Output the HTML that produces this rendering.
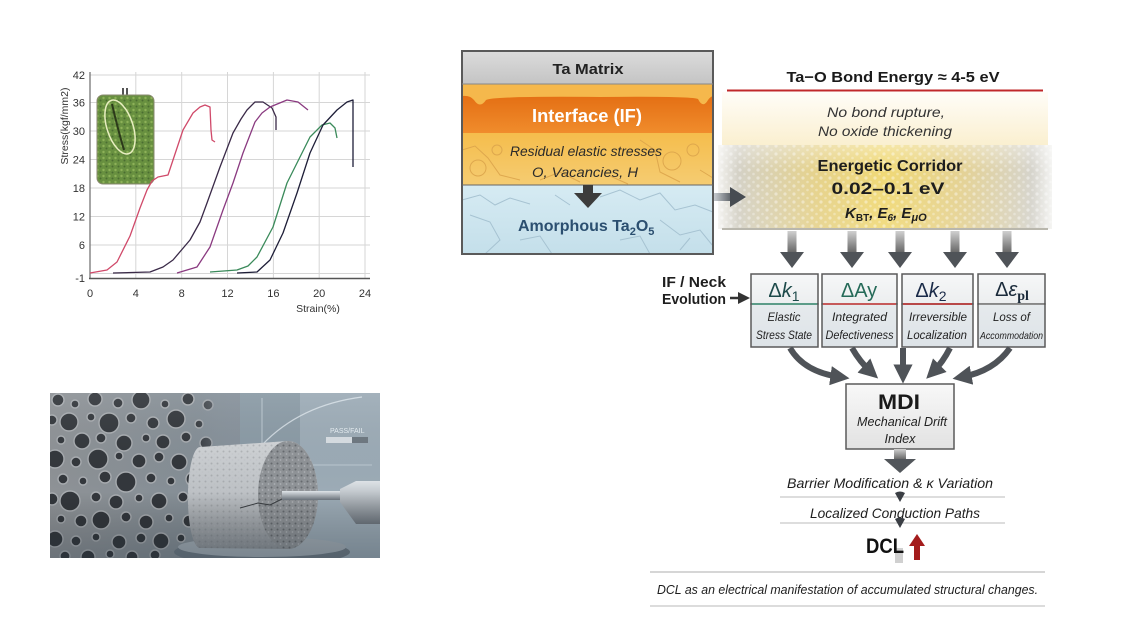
<!DOCTYPE html>
<html><head><meta charset="utf-8"><style>
html,body{margin:0;padding:0;background:#fff;width:1140px;height:641px;overflow:hidden}
svg{display:block}
text{font-family:"Liberation Sans",sans-serif}
</style></head><body>
<svg width="1140" height="641" viewBox="0 0 1140 641" xmlns="http://www.w3.org/2000/svg">
<defs>
<linearGradient id="gTa" x1="0" y1="0" x2="0" y2="1"><stop offset="0" stop-color="#dcdcdc"/><stop offset="1" stop-color="#c4c4c4"/></linearGradient>
<linearGradient id="gIF" x1="0" y1="0" x2="0" y2="1"><stop offset="0" stop-color="#e46f14"/><stop offset="1" stop-color="#f08c2c"/></linearGradient>
<linearGradient id="gRes" x1="0" y1="0" x2="0" y2="1"><stop offset="0" stop-color="#f5bd4c"/><stop offset="1" stop-color="#f5cc72"/></linearGradient>
<linearGradient id="gAm" x1="0" y1="0" x2="0" y2="1"><stop offset="0" stop-color="#d6ebf3"/><stop offset="1" stop-color="#c4dfea"/></linearGradient>
<linearGradient id="gCream" x1="0" y1="0" x2="0" y2="1"><stop offset="0" stop-color="#fffdf8"/><stop offset="1" stop-color="#faefcf"/></linearGradient>
<linearGradient id="gCorr" x1="0" y1="0" x2="1" y2="0"><stop offset="0" stop-color="#f4f3f0"/><stop offset="0.06" stop-color="#d4d1c6"/><stop offset="0.3" stop-color="#e6d28a"/><stop offset="0.5" stop-color="#f0d976"/><stop offset="0.72" stop-color="#e5d292"/><stop offset="0.94" stop-color="#d6d4cc"/><stop offset="1" stop-color="#f4f4f2"/></linearGradient>
<linearGradient id="gCorrV" x1="0" y1="0" x2="0" y2="1"><stop offset="0" stop-color="#fff" stop-opacity="0.35"/><stop offset="0.3" stop-color="#fff" stop-opacity="0"/><stop offset="1" stop-color="#fff" stop-opacity="0.1"/></linearGradient>
<pattern id="dots" width="9" height="8" patternUnits="userSpaceOnUse"><circle cx="2" cy="2" r="1.6" fill="#fff" fill-opacity="0.4"/><circle cx="6.5" cy="6" r="1.3" fill="#fff" fill-opacity="0.3"/></pattern>
<linearGradient id="gShaft" x1="0" y1="0" x2="0" y2="1"><stop offset="0" stop-color="#d0d0d0"/><stop offset="1" stop-color="#606060"/></linearGradient>
<linearGradient id="gShaftH" x1="0" y1="0" x2="1" y2="0"><stop offset="0" stop-color="#c8ccd0"/><stop offset="1" stop-color="#4a4f55"/></linearGradient>
<linearGradient id="gBoxT" x1="0" y1="0" x2="0" y2="1"><stop offset="0" stop-color="#f6f7f8"/><stop offset="1" stop-color="#eceeef"/></linearGradient>
<linearGradient id="gBoxB" x1="0" y1="0" x2="0" y2="1"><stop offset="0" stop-color="#e6eaed"/><stop offset="1" stop-color="#dde3e7"/></linearGradient>
<linearGradient id="gMDI" x1="0" y1="0" x2="0" y2="1"><stop offset="0" stop-color="#f8f8f8"/><stop offset="1" stop-color="#e2e2e2"/></linearGradient>
<marker id="ah" viewBox="0 0 10 10" refX="5" refY="5" markerWidth="3.2" markerHeight="3.2" orient="auto"><path d="M0,0 L10,5 L0,10 z" fill="#4f5358"/></marker>
<linearGradient id="gPhoto" x1="0" y1="0" x2="1" y2="0"><stop offset="0" stop-color="#8e9296"/><stop offset="0.45" stop-color="#848e96"/><stop offset="0.75" stop-color="#8a9aa5"/><stop offset="1" stop-color="#a8b6c0"/></linearGradient>
<linearGradient id="gPhotoV" x1="0" y1="0" x2="0" y2="1"><stop offset="0" stop-color="#fff" stop-opacity="0.08"/><stop offset="0.6" stop-color="#000" stop-opacity="0"/><stop offset="1" stop-color="#1c2a36" stop-opacity="0.3"/></linearGradient>
<linearGradient id="gCyl" x1="0" y1="0" x2="0" y2="1"><stop offset="0" stop-color="#d2d5d8"/><stop offset="0.5" stop-color="#bcc0c4"/><stop offset="1" stop-color="#8e9398"/></linearGradient>
<linearGradient id="gProbe" x1="0" y1="0" x2="0" y2="1"><stop offset="0" stop-color="#dfe4e8"/><stop offset="1" stop-color="#6e767e"/></linearGradient>
<linearGradient id="gFade" x1="0" y1="0" x2="1" y2="0"><stop offset="0" stop-color="#86909a" stop-opacity="0"/><stop offset="1" stop-color="#86909a" stop-opacity="1"/></linearGradient>
<clipPath id="cPhoto"><rect x="50" y="393" width="330" height="165"/></clipPath>
<clipPath id="cFace"><ellipse cx="288" cy="495" rx="30" ry="54"/></clipPath>
<pattern id="speck" width="6" height="6" patternUnits="userSpaceOnUse"><circle cx="1.5" cy="1.5" r="1" fill="#5c6064"/><circle cx="4.5" cy="4" r="0.9" fill="#b4b8bc"/></pattern>
<pattern id="grass" width="6" height="6" patternUnits="userSpaceOnUse"><rect width="6" height="6" fill="#5f8a35"/><circle cx="1.5" cy="2" r="1.2" fill="#86ad4e"/><circle cx="4.5" cy="4.5" r="1" fill="#3f6425"/></pattern>
</defs>

<!-- ================= CHART ================= -->
<g stroke="#d6d6d6" stroke-width="1">
<line x1="90" y1="75" x2="370" y2="75"/><line x1="90" y1="102.5" x2="370" y2="102.5"/><line x1="90" y1="131" x2="370" y2="131"/><line x1="90" y1="159.5" x2="370" y2="159.5"/><line x1="90" y1="188" x2="370" y2="188"/><line x1="90" y1="216.5" x2="370" y2="216.5"/><line x1="90" y1="245" x2="370" y2="245"/><line x1="90" y1="273.5" x2="370" y2="273.5"/>
<line x1="135.8" y1="72" x2="135.8" y2="278"/><line x1="181.7" y1="72" x2="181.7" y2="278"/><line x1="227.5" y1="72" x2="227.5" y2="278"/><line x1="273.4" y1="72" x2="273.4" y2="278"/><line x1="319.2" y1="72" x2="319.2" y2="278"/><line x1="365" y1="72" x2="365" y2="278"/>
</g>
<line x1="90" y1="72" x2="90" y2="279" stroke="#777" stroke-width="1.3"/>
<line x1="89" y1="278.5" x2="370" y2="278.5" stroke="#555" stroke-width="1.5"/>
<g font-size="11" fill="#333" text-anchor="end">
<text x="85" y="79">42</text><text x="85" y="106.5">36</text><text x="85" y="135">30</text><text x="85" y="163.5">24</text><text x="85" y="192">18</text><text x="85" y="220.5">12</text><text x="85" y="249">6</text><text x="85" y="282">-1</text>
</g>
<g font-size="11" fill="#333" text-anchor="middle">
<text x="90" y="297">0</text><text x="135.8" y="297">4</text><text x="181.7" y="297">8</text><text x="227.5" y="297">12</text><text x="273.4" y="297">16</text><text x="319.2" y="297">20</text><text x="365" y="297">24</text>
<text x="318" y="312" font-size="10.5">Strain(%)</text>
</g>
<text transform="translate(68,126) rotate(-90)" font-size="10.5" fill="#333" text-anchor="middle">Stress(kgf/mm2)</text>
<!-- inset photo -->
<rect x="122" y="88" width="2" height="8" fill="#555"/><rect x="126" y="88" width="2" height="8" fill="#555"/>
<rect x="97" y="95" width="57" height="89" rx="6" fill="url(#grass)"/>
<rect x="97" y="95" width="57" height="89" rx="6" fill="#fff" fill-opacity="0.06" stroke="#8a8a70" stroke-width="1"/>
<path d="M112,104 Q118,130 124,150" stroke="#2c3a1a" stroke-width="2" fill="none"/>
<ellipse cx="120" cy="127" rx="13" ry="28" transform="rotate(-18 120 127)" fill="none" stroke="#e8eec0" stroke-width="1.5"/>
<!-- curves -->
<g fill="none" stroke-width="1.3" stroke-linejoin="round">
<path stroke="#d04a6a" d="M90,273 L107,270 L117,262 L130,236 L140,208 L147,190 L152,181 L158,177 L163,176 L168,175 L173,160 L183,130 L193,113 L200,107 L205,105 L210,107 L211,130 L212,140 L215,142"/>
<path stroke="#3a2a48" d="M113,273 L150,272 L163,267 L173,260 L190,240 L200,222 L207,203 L220,167 L233,133 L241,119 L247,110 L255,102 L263,102 L272,108 L276,117 L276,130"/>
<path stroke="#8a3a80" d="M177,273 L197,267 L210,247 L223,210 L233,183 L243,153 L255,122 L262,113 L270,107 L287,100 L298,102 L308,110"/>
<path stroke="#3a8a5a" d="M210,272 L237,270 L248,266 L257,257 L273,227 L287,183 L297,163 L310,137 L322,125 L330,123 L335,128 L337,138"/>
<path stroke="#1e1e38" d="M237,273 L257,272 L270,260 L283,233 L297,193 L310,153 L323,125 L337,110 L347,102 L353,100 L353,167"/>
</g>

<!-- ================= PHOTO ================= -->
<g clip-path="url(#cPhoto)">
<rect x="50" y="393" width="330" height="165" fill="url(#gPhoto)"/>
<g fill="#33373c" stroke="#a8acb0" stroke-width="1.4">
<circle cx="58" cy="400" r="6"/><circle cx="75" cy="404" r="4"/><circle cx="95" cy="399" r="7"/><circle cx="118" cy="403" r="5"/><circle cx="141" cy="400" r="9"/><circle cx="165" cy="404" r="4"/><circle cx="188" cy="399" r="6"/><circle cx="208" cy="405" r="5"/>
<circle cx="52" cy="420" r="5"/><circle cx="69" cy="422" r="9"/><circle cx="91" cy="417" r="4"/><circle cx="109" cy="423" r="10"/><circle cx="131" cy="418" r="5"/><circle cx="153" cy="423" r="6"/><circle cx="176" cy="419" r="9"/><circle cx="199" cy="424" r="4"/>
<circle cx="61" cy="440" r="4"/><circle cx="82" cy="441" r="8"/><circle cx="101" cy="438" r="5"/><circle cx="124" cy="443" r="8"/><circle cx="146" cy="438" r="4"/><circle cx="163" cy="442" r="7"/><circle cx="186" cy="437" r="5"/><circle cx="206" cy="443" r="6"/>
<circle cx="55" cy="459" r="9"/><circle cx="76" cy="462" r="5"/><circle cx="98" cy="459" r="10"/><circle cx="119" cy="456" r="4"/><circle cx="139" cy="461" r="7"/><circle cx="159" cy="457" r="5"/><circle cx="179" cy="462" r="8"/><circle cx="200" cy="458" r="4"/>
<circle cx="63" cy="479" r="5"/><circle cx="83" cy="481" r="4"/><circle cx="105" cy="477" r="6"/><circle cx="126" cy="482" r="10"/><circle cx="151" cy="478" r="5"/><circle cx="171" cy="481" r="4"/><circle cx="193" cy="479" r="7"/>
<circle cx="52" cy="499" r="6"/><circle cx="70" cy="501" r="10"/><circle cx="96" cy="497" r="5"/><circle cx="116" cy="502" r="7"/><circle cx="139" cy="498" r="4"/><circle cx="159" cy="501" r="8"/><circle cx="183" cy="497" r="5"/><circle cx="203" cy="502" r="4"/>
<circle cx="61" cy="519" r="4"/><circle cx="81" cy="521" r="6"/><circle cx="101" cy="520" r="9"/><circle cx="126" cy="517" r="5"/><circle cx="146" cy="522" r="7"/><circle cx="169" cy="518" r="4"/><circle cx="189" cy="521" r="6"/>
<circle cx="55" cy="539" r="8"/><circle cx="76" cy="541" r="5"/><circle cx="96" cy="537" r="4"/><circle cx="119" cy="542" r="7"/><circle cx="141" cy="538" r="5"/><circle cx="161" cy="541" r="8"/><circle cx="181" cy="538" r="4"/><circle cx="201" cy="542" r="5"/>
<circle cx="65" cy="556" r="5"/><circle cx="88" cy="557" r="7"/><circle cx="110" cy="554" r="4"/><circle cx="132" cy="557" r="6"/><circle cx="155" cy="555" r="5"/>
</g>
<rect x="195" y="393" width="45" height="165" fill="url(#gFade)" opacity="0.85"/>
<rect x="240" y="393" width="140" height="165" fill="#8a9aa5"/>
<rect x="300" y="393" width="80" height="165" fill="#a6b4be" opacity="0.65"/>
<!-- graph overlay -->
<path d="M262,445 Q300,405 362,397" stroke="#dde6ec" stroke-width="1.2" fill="none" opacity="0.8"/>
<line x1="262" y1="398" x2="262" y2="470" stroke="#c6d2da" stroke-width="0.8"/>
<line x1="262" y1="465" x2="372" y2="465" stroke="#c6d2da" stroke-width="0.8"/>
<text x="330" y="433" font-size="7" fill="#e6eef2">PASS/FAIL</text>
<rect x="326" y="437" width="26" height="6" fill="#d8dee3"/><rect x="352" y="437" width="16" height="6" fill="#6d7780"/>
<!-- disc -->
<ellipse cx="262" cy="552" rx="88" ry="13" fill="#6e7a84"/>
<ellipse cx="262" cy="547" rx="84" ry="10" fill="#a4aeb6"/>
<!-- cylinder -->
<path d="M200,447 L288,441 A30,54 0 0 1 288,549 L200,548 A12,50 0 0 1 200,447 Z" fill="url(#gCyl)"/>
<path d="M200,447 L288,441 A30,54 0 0 1 288,549 L200,548 A12,50 0 0 1 200,447 Z" fill="url(#speck)" opacity="0.25"/>
<ellipse cx="288" cy="495" rx="30" ry="54" fill="#8f9397"/>
<g clip-path="url(#cFace)"><rect x="255" y="440" width="70" height="110" fill="url(#speck)" opacity="0.8"/></g>
<path d="M240,508 L258,503 L270,505 L288,496" stroke="#3a3e42" stroke-width="1" fill="none"/>
<!-- probe -->
<rect x="282" y="491" width="62" height="9" fill="url(#gProbe)"/>
<path d="M340,489 L356,481 L382,481 L382,524 L356,524 L340,502 Z" fill="url(#gProbe)"/>
<rect x="50" y="393" width="330" height="165" fill="url(#gPhotoV)"/>
</g>

<!-- ================= LEFT LAYER BOX ================= -->
<rect x="462" y="51" width="251" height="33" fill="url(#gTa)"/>
<rect x="462" y="84" width="251" height="26" fill="#f5b84c"/>
<path d="M462,96 Q470,95 474,100 Q480,109 486,100 Q492,96 600,97 Q692,96 698,99 Q703,109 708,100 Q710,97 713,96 L713,133 L462,133 Z" fill="url(#gIF)"/>
<rect x="462" y="133" width="251" height="52" fill="url(#gRes)"/>
<g fill="none" stroke="#dca54c" stroke-width="1" opacity="0.9">
<circle cx="478" cy="168" r="8"/><circle cx="672" cy="161" r="9"/><circle cx="693" cy="150" r="6"/><circle cx="497" cy="150" r="5"/>
<path d="M462,150 L475,146 L488,158 L500,175 L520,180 M640,140 L655,150 L660,172 L680,182 M700,170 L713,178 M540,180 L560,172 L580,182 M610,176 L628,184"/>
</g>
<rect x="462" y="185" width="251" height="69" fill="url(#gAm)"/>
<g fill="none" stroke="#a2bfce" stroke-width="1" opacity="0.9">
<path d="M462,200 L480,195 L495,205 L510,198 L530,204 M470,215 L490,222 L500,240 L485,254 M520,240 L540,236 L552,254 M640,200 L660,193 L675,210 L695,205 L713,212 M660,220 L680,235 L700,230 L713,246 M620,240 L640,236 L650,254 M555,195 L570,205 M600,197 L620,190 L640,200 M680,250 L690,238"/>
</g>
<rect x="462" y="51" width="251" height="203" fill="none" stroke="#5a5a5a" stroke-width="2"/>
<line x1="462" y1="84" x2="713" y2="84" stroke="#888" stroke-width="1"/>
<line x1="462" y1="185" x2="713" y2="185" stroke="#666" stroke-width="1"/>
<!-- down arrow inside -->
<rect x="583" y="185" width="10" height="10" fill="#3c3c3c"/>
<path d="M574,193 L602,193 L588,208 Z" fill="#3c3c3c"/>
<text x="588" y="74" font-size="15" font-weight="bold" fill="#222" text-anchor="middle" textLength="71" lengthAdjust="spacingAndGlyphs">Ta Matrix</text>
<text x="587" y="122" font-size="18" font-weight="bold" fill="#fff" text-anchor="middle" textLength="110" lengthAdjust="spacingAndGlyphs">Interface (IF)</text>
<text x="586" y="156" font-size="14" font-style="italic" fill="#2a2a2a" text-anchor="middle" textLength="152" lengthAdjust="spacingAndGlyphs">Residual elastic stresses</text>
<text x="585" y="177" font-size="14" font-style="italic" fill="#2a2a2a" text-anchor="middle" textLength="106" lengthAdjust="spacingAndGlyphs">O, Vacancies, H</text>
<text x="518" y="231" font-size="16" font-weight="bold" fill="#2b4f70">Amorphous Ta<tspan font-size="11" dy="4">2</tspan><tspan dy="-4">O</tspan><tspan font-size="11" dy="4">5</tspan></text>

<!-- ================= TOP RIGHT ================= -->
<text x="893" y="82" font-size="15" font-weight="bold" fill="#1a1a1a" text-anchor="middle" textLength="213" lengthAdjust="spacingAndGlyphs">Ta−O Bond Energy ≈ 4-5 eV</text>
<rect x="722" y="92" width="326" height="54" fill="url(#gCream)"/>
<line x1="727" y1="90.5" x2="1043" y2="90.5" stroke="#c0282a" stroke-width="2"/>
<text x="886" y="117" font-size="14" font-style="italic" fill="#333" text-anchor="middle" textLength="118" lengthAdjust="spacingAndGlyphs">No bond rupture,</text>
<text x="885" y="136" font-size="14" font-style="italic" fill="#333" text-anchor="middle" textLength="134" lengthAdjust="spacingAndGlyphs">No oxide thickening</text>
<!-- corridor -->
<rect x="718" y="145" width="334" height="84" fill="url(#gCorr)"/>
<rect x="718" y="145" width="334" height="84" fill="url(#dots)"/>
<rect x="718" y="145" width="334" height="84" fill="url(#gCorrV)"/>
<line x1="722" y1="229" x2="1048" y2="229" stroke="#b9b7ad" stroke-width="2"/>
<text x="890" y="171" font-size="16" font-weight="bold" fill="#1e1e1e" text-anchor="middle" textLength="145" lengthAdjust="spacingAndGlyphs">Energetic Corridor</text>
<text x="888" y="194" font-size="17" font-weight="bold" fill="#1e1e1e" text-anchor="middle" textLength="113" lengthAdjust="spacingAndGlyphs">0.02–0.1 eV</text>
<text x="845" y="218" font-size="15" font-weight="bold" font-style="italic" fill="#1e1e1e">K<tspan font-size="10" font-style="normal" dy="3">BT</tspan><tspan dy="-3">, E</tspan><tspan font-size="10" dy="3">6</tspan><tspan dy="-3">, E</tspan><tspan font-size="11" dy="3">μO</tspan></text>

<!-- arrow to corridor (on top) -->
<rect x="714" y="193" width="20" height="8" fill="url(#gShaftH)"/>
<path d="M730,187 L746,197 L730,207 Z" fill="#474c52"/>

<!-- corridor down arrows -->
<g>
<rect x="787.5" y="231" width="9" height="23" fill="url(#gShaft)"/><path d="M780,252 L804,252 L792,268 Z" fill="#4f5358"/>
<rect x="847.5" y="231" width="9" height="23" fill="url(#gShaft)"/><path d="M840,252 L864,252 L852,268 Z" fill="#4f5358"/>
<rect x="895.5" y="231" width="9" height="23" fill="url(#gShaft)"/><path d="M888,252 L912,252 L900,268 Z" fill="#4f5358"/>
<rect x="950.5" y="231" width="9" height="23" fill="url(#gShaft)"/><path d="M943,252 L967,252 L955,268 Z" fill="#4f5358"/>
<rect x="1002.5" y="231" width="9" height="23" fill="url(#gShaft)"/><path d="M995,252 L1019,252 L1007,268 Z" fill="#4f5358"/>
</g>

<!-- IF / Neck -->
<text x="694" y="287" font-size="15" font-weight="bold" fill="#1e1e1e" text-anchor="middle" textLength="64" lengthAdjust="spacingAndGlyphs">IF / Neck</text>
<text x="694" y="304" font-size="15" font-weight="bold" fill="#1e1e1e" text-anchor="middle" textLength="64" lengthAdjust="spacingAndGlyphs">Evolution</text>
<line x1="730" y1="298" x2="740" y2="298" stroke="#333" stroke-width="2.5"/>
<path d="M738,292 L750,298 L738,304 Z" fill="#333"/>

<!-- parameter boxes -->
<g stroke="#5a5a5a" stroke-width="1.5">
<rect x="751" y="274" width="67" height="30" fill="url(#gBoxT)"/><rect x="751" y="304" width="67" height="43" fill="url(#gBoxB)"/>
<rect x="822" y="274" width="75" height="30" fill="url(#gBoxT)"/><rect x="822" y="304" width="75" height="43" fill="url(#gBoxB)"/>
<rect x="902" y="274" width="71" height="30" fill="url(#gBoxT)"/><rect x="902" y="304" width="71" height="43" fill="url(#gBoxB)"/>
<rect x="978" y="274" width="67" height="30" fill="url(#gBoxT)"/><rect x="978" y="304" width="67" height="43" fill="url(#gBoxB)"/>
</g>
<line x1="752" y1="304" x2="817" y2="304" stroke="#5c9c88" stroke-width="2"/>
<line x1="823" y1="304" x2="896" y2="304" stroke="#c65a5a" stroke-width="2"/>
<line x1="903" y1="304" x2="972" y2="304" stroke="#b84848" stroke-width="2"/>
<line x1="979" y1="304" x2="1044" y2="304" stroke="#8a8a8a" stroke-width="1.5"/>
<text x="784" y="297" font-size="20" fill="#1d4a4a" text-anchor="middle">Δ<tspan font-style="italic">k</tspan><tspan font-size="14" dy="4">1</tspan></text>
<text x="859" y="297" font-size="20" fill="#256a58" text-anchor="middle">ΔAy</text>
<text x="931" y="297" font-size="20" fill="#1a2a48" text-anchor="middle">Δ<tspan font-style="italic">k</tspan><tspan font-size="14" dy="4">2</tspan></text>
<text x="1012" y="296" font-size="20" fill="#1a2a3a" text-anchor="middle">Δ<tspan font-style="italic">ε</tspan><tspan font-size="14" dy="4" font-family="Liberation Serif, serif" font-weight="bold">pl</tspan></text>
<g font-size="12" font-style="italic" fill="#222" text-anchor="middle">
<text x="784" y="321" textLength="33" lengthAdjust="spacingAndGlyphs">Elastic</text>
<text x="784" y="339" textLength="56" lengthAdjust="spacingAndGlyphs">Stress State</text>
<text x="859.5" y="321" textLength="55" lengthAdjust="spacingAndGlyphs">Integrated</text>
<text x="859.5" y="339" textLength="68" lengthAdjust="spacingAndGlyphs">Defectiveness</text>
<text x="938" y="321" textLength="58" lengthAdjust="spacingAndGlyphs">Irreversible</text>
<text x="937" y="339" textLength="60" lengthAdjust="spacingAndGlyphs">Localization</text>
<text x="1011.5" y="321" textLength="37" lengthAdjust="spacingAndGlyphs">Loss of</text>
<text x="1011.5" y="339" font-size="10.5" textLength="63" lengthAdjust="spacingAndGlyphs">Accommodation</text>
</g>

<!-- curved arrows to MDI -->
<g fill="none" stroke="#4f5358" stroke-width="6" marker-end="url(#ah)">
<path d="M790,348 Q804,372 840,377"/>
<path d="M852,348 Q860,362 871,372"/>
<path d="M903,348 L903,374"/>
<path d="M950,348 Q943,362 933,372"/>
<path d="M1010,348 Q994,371 962,377"/>
</g>

<!-- MDI box -->
<rect x="846" y="384" width="108" height="65" fill="url(#gMDI)" stroke="#5a5a5a" stroke-width="1.5"/>
<text x="899" y="409" font-size="21" font-weight="bold" fill="#1a1a1a" text-anchor="middle" textLength="42" lengthAdjust="spacingAndGlyphs">MDI</text>
<text x="902" y="426" font-size="13" font-style="italic" fill="#222" text-anchor="middle" textLength="90" lengthAdjust="spacingAndGlyphs">Mechanical Drift</text>
<text x="900" y="443" font-size="13" font-style="italic" fill="#222" text-anchor="middle" textLength="31" lengthAdjust="spacingAndGlyphs">Index</text>

<!-- arrow to barrier -->
<rect x="894" y="449" width="12" height="11" fill="url(#gShaft)"/>
<path d="M884,459 L916,459 L900,473 Z" fill="#52565b"/>
<text x="890" y="488" font-size="14" font-style="italic" fill="#1e1e1e" text-anchor="middle" textLength="206" lengthAdjust="spacingAndGlyphs">Barrier Modification &amp; κ Variation</text>
<line x1="780" y1="497" x2="1005" y2="497" stroke="#bbb" stroke-width="1"/>
<path d="M895,493 Q900,490 905,493 L900,502 Z" fill="#3a3e44"/>
<text x="895" y="518" font-size="14" font-style="italic" fill="#1e1e1e" text-anchor="middle" textLength="170" lengthAdjust="spacingAndGlyphs">Localized Conduction Paths</text>
<line x1="780" y1="523" x2="1005" y2="523" stroke="#bbb" stroke-width="1"/>
<path d="M895,519 Q900,516 905,519 L900,528 Z" fill="#3a3e44"/>
<rect x="895" y="548" width="8" height="15" fill="#d0d0d0"/>
<text x="885" y="553" font-size="21" font-weight="bold" fill="#111" text-anchor="middle" textLength="38" lengthAdjust="spacingAndGlyphs">DCL</text>
<rect x="914" y="545" width="6" height="15" fill="#a41c1c"/>
<path d="M909,546 L925,546 L917,534 Z" fill="#a41c1c"/>

<!-- caption -->
<line x1="650" y1="572" x2="1045" y2="572" stroke="#bdbdbd" stroke-width="1.3"/>
<text x="657" y="594" font-size="13" font-style="italic" fill="#1e1e1e" textLength="381" lengthAdjust="spacingAndGlyphs">DCL as an electrical manifestation of accumulated structural changes.</text>
<line x1="650" y1="606" x2="1045" y2="606" stroke="#c6c6c6" stroke-width="1.3"/>
</svg>
</body></html>
